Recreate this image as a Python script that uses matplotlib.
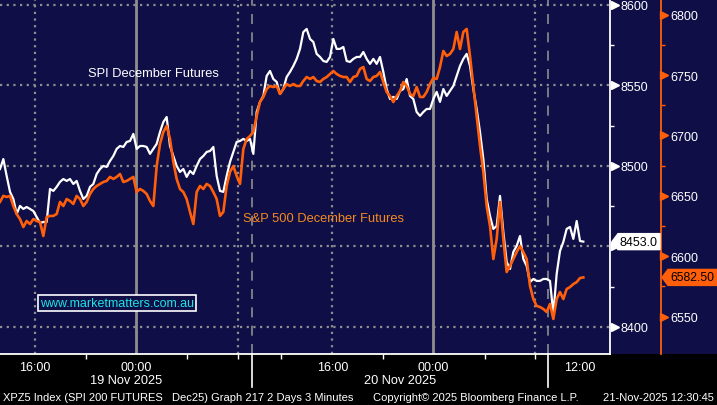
import numpy as np
import matplotlib
matplotlib.use("Agg")
import matplotlib.pyplot as plt
from matplotlib.patches import Polygon, Rectangle
from matplotlib.transforms import ScaledTranslation

plt.rcParams['font.family'] = ['Liberation Sans', 'DejaVu Sans']

# ---------------- data (sampled along the compressed trading-time axis) ----------------
spi_dec_futures = [
    8498.1, 8504.3, 8493.8, 8483.9, 8479.5, 8470.2, 8475.2, 8473.3, 8474.5, 8473.3,
    8472.0, 8468.3, 8464.6, 8465.2, 8465.2, 8485.7, 8484.5, 8487.0, 8490.1, 8491.9,
    8490.7, 8491.9, 8488.8, 8490.7, 8484.5, 8479.5, 8481.4, 8487.0, 8488.8, 8495.0,
    8498.1, 8500.0, 8499.4, 8503.1, 8506.2, 8510.6, 8512.4, 8511.8, 8514.9, 8515.5,
    8519.9, 8510.6, 8512.4, 8512.4, 8511.8, 8507.5, 8510.6, 8513.7, 8521.1, 8527.3,
    8530.4, 8512.4, 8506.2, 8500.0, 8496.3, 8498.1, 8493.2, 8496.9, 8495.0, 8500.0,
    8504.3, 8506.2, 8508.7, 8509.3, 8511.8, 8493.8, 8484.5, 8483.9, 8493.8, 8502.5,
    8508.7, 8514.9, 8515.5, 8516.8, 8515.5, 8516.8, 8507.5, 8533.5, 8539.8, 8543.5,
    8555.9, 8559.0, 8554.0, 8552.2, 8544.7, 8547.8, 8555.3, 8558.4, 8562.1, 8566.5,
    8572.7, 8583.2, 8585.1, 8578.9, 8577.0, 8569.6, 8567.7, 8565.2, 8564.6, 8567.7,
    8578.9, 8572.7, 8572.7, 8573.9, 8565.2, 8564.6, 8566.5, 8567.7, 8567.7, 8570.8,
    8566.5, 8563.4, 8566.5, 8563.4, 8567.7, 8558.4, 8547.8, 8541.6, 8542.9, 8541.6,
    8546.6, 8547.8, 8554.0, 8543.5, 8541.6, 8533.5, 8531.1, 8533.5, 8535.4, 8535.4,
    8541.6, 8546.0, 8539.8, 8547.8, 8543.5, 8546.6, 8549.7, 8555.9, 8562.1, 8566.5,
    8569.6, 8562.1, 8547.8, 8535.4, 8521.1, 8504.3, 8479.5, 8468.9, 8460.9, 8462.7,
    8481.4, 8459.0, 8440.4, 8436.0, 8446.6, 8450.3, 8456.5, 8442.2, 8437.9, 8427.9,
    8429.8, 8428.6, 8428.6, 8429.8, 8429.8, 8428.6, 8408.1, 8432.9, 8447.2, 8452.8,
    8460.9, 8462.1, 8454.7, 8465.8, 8453.4, 8453.0,
]

sp500_dec_futures = [
    6645.0, 6650.0, 6649.1, 6650.0, 6641.6, 6635.0, 6630.8, 6624.2, 6629.2, 6626.7,
    6630.8, 6629.2, 6628.4, 6616.8, 6632.5, 6633.4, 6633.4, 6635.0, 6645.0, 6641.6,
    6647.4, 6645.8, 6643.3, 6650.0, 6647.4, 6641.6, 6645.0, 6651.6, 6655.7, 6658.2,
    6659.9, 6661.5, 6662.4, 6665.7, 6664.0, 6665.7, 6668.1, 6661.5, 6662.4, 6664.0,
    6665.7, 6653.2, 6655.7, 6654.1, 6651.6, 6645.8, 6641.6, 6674.7, 6693.0, 6702.9,
    6707.9, 6697.1, 6678.1, 6664.0, 6655.7, 6653.2, 6647.4, 6636.7, 6626.7, 6653.2,
    6658.2, 6655.7, 6659.9, 6658.2, 6653.2, 6647.4, 6633.4, 6636.7, 6658.2, 6669.8,
    6674.7, 6666.5, 6659.9, 6688.8, 6697.1, 6699.6, 6702.9, 6716.1, 6727.7, 6731.9,
    6738.5, 6741.0, 6740.1, 6741.0, 6734.4, 6738.5, 6742.6, 6741.0, 6742.6, 6741.0,
    6741.0, 6745.1, 6748.4, 6746.8, 6748.4, 6745.1, 6744.3, 6746.8, 6748.4, 6750.9,
    6753.4, 6750.9, 6749.3, 6748.4, 6748.4, 6744.3, 6748.4, 6749.3, 6755.1, 6756.7,
    6746.8, 6745.1, 6748.4, 6749.3, 6752.6, 6744.3, 6736.0, 6732.7, 6727.7, 6732.7,
    6736.8, 6744.3, 6741.0, 6734.4, 6732.7, 6740.1, 6731.9, 6731.9, 6736.0, 6742.6,
    6747.6, 6746.8, 6756.7, 6770.0, 6765.8, 6767.5, 6771.6, 6785.7, 6771.6, 6785.7,
    6788.2, 6765.8, 6741.0, 6716.1, 6691.3, 6669.8, 6641.6, 6625.0, 6597.7, 6614.3,
    6644.9, 6614.3, 6587.0, 6592.0, 6597.7, 6603.5, 6608.5, 6603.5, 6597.7, 6575.4,
    6564.6, 6558.9, 6558.0, 6556.4, 6553.9, 6560.5, 6548.1, 6564.6, 6570.4, 6564.6,
    6572.9, 6574.5, 6577.0, 6578.6, 6582.0, 6582.5,
]

spi_last = 8453.0
sp_last = 6582.50

# x axis (compressed trading time, sample index units)
time_tick_pos = [10.5, 40.8, 99.7, 129.9, 174.0]
time_tick_labels = ['16:00', '00:00', '16:00', '00:00', '12:00']
minor_tick_pos = [25.8, 56.1, 71.4, 84.3, 114.9, 145.5, 160.5]
dotted_grid_pos = [10.5, 71.4, 99.7, 160.5]
midnight_pos = [40.8, 129.9]
session_pos = [75.5, 164.5]
date_labels = ['19 Nov 2025', '20 Nov 2025']
date_label_pos = [37.8, 120.0]

spi_ticks = [8400, 8450, 8500, 8550, 8600]
spi_tick_labels = ['8400', '', '8500', '8550', '8600']   # 8450 sits under the last-price tag
spi_minor = [8425, 8475, 8525, 8575]
sp_ticks = [6550, 6600, 6650, 6700, 6750, 6800]
sp_minor = [6575, 6625, 6675, 6725, 6775]

# ---------------- style ----------------
NAVY = '#0F0E47'
ORANGE = '#FF5F0A'
GRID = '#8E8E8E'
W, H = 717, 406
PLOT_R = 610
PLOT_B = 355

fig = plt.figure(figsize=(W / 100, H / 100), dpi=100, facecolor='black')
ax = fig.add_axes([0, (H - PLOT_B) / H, PLOT_R / W, PLOT_B / H])
ax.set_facecolor(NAVY)
fig.add_artist(Rectangle((0, (H - PLOT_B) / H), 1, PLOT_B / H, transform=fig.transFigure,
                         facecolor=NAVY, edgecolor='none', zorder=-5))

x = np.arange(len(spi_dec_futures))

ax.set_xlim(0, PLOT_R / (10 / 3))
ax.set_ylim(8383.2, 8603.7)

ax2 = ax.twinx()
ax2.set_ylim(6519.1, 6813.0)

# grid lines
for v in spi_ticks:
    ax.axhline(v, color=GRID, lw=1.6, ls=(0, (1, 2)), zorder=1)
for p in dotted_grid_pos:
    ax.axvline(p, color=GRID, lw=1.6, ls=(0, (1, 2)), zorder=1)
for p in midnight_pos:
    ax.axvline(p, color=GRID, lw=2.0, zorder=1)
for p in session_pos:
    ax.axvline(p, color=GRID, lw=1.2, ls=(0, (6, 5)), zorder=1)
    ax.plot([p, p], [0, -0.093], transform=ax.get_xaxis_transform(), color='white',
            lw=1.2, clip_on=False, zorder=3)

# series
ax.plot(x, spi_dec_futures, color='white', lw=1.6, zorder=4)
ax2.plot(x, sp500_dec_futures, color=ORANGE, lw=1.9, zorder=5)

# spines
for s in ['top', 'left']:
    ax.spines[s].set_visible(False)
    ax2.spines[s].set_visible(False)
ax2.spines['bottom'].set_visible(False)
ax.spines['bottom'].set_color('white')
ax.spines['bottom'].set_linewidth(1.3)
ax.spines['right'].set_color('white')
ax.spines['right'].set_linewidth(1.3)
ax2.spines['right'].set_position(('axes', 661 / PLOT_R))
ax2.spines['right'].set_color(ORANGE)
ax2.spines['right'].set_linewidth(1.3)

# x ticks
ax.set_xticks(time_tick_pos)
ax.set_xticklabels(time_tick_labels)
ax.set_xticks(minor_tick_pos, minor=True)
ax.tick_params(axis='x', which='major', length=0, pad=5, colors='white', labelsize=9)
ax.tick_params(axis='x', which='minor', length=3.5, width=1, color='white')
for p, lab in zip(date_label_pos, date_labels):
    ax.text(p, -0.073, lab, transform=ax.get_xaxis_transform(), ha='center', va='center',
            color='white', fontsize=9.2)

# y ticks (SPI, white)
ax.yaxis.tick_right()
ax.set_yticks(spi_ticks)
ax.set_yticklabels(spi_tick_labels)
ax.set_yticks(spi_minor, minor=True)
ax.tick_params(axis='y', which='major', length=0, pad=7.5, colors='white', labelsize=9)
ax.tick_params(axis='y', which='minor', length=3, width=1, color='white')
ax.plot([1.0074] * len(spi_ticks), spi_ticks, ls='none', marker='>', ms=5.5, color='white',
        transform=ax.get_yaxis_transform(), clip_on=False, zorder=6)

# y ticks (S&P, orange)
ax2.set_yticks(sp_ticks)
ax2.set_yticks(sp_minor, minor=True)
ax2.tick_params(axis='y', which='major', length=0, pad=7, labelcolor='white', labelsize=9)
ax2.tick_params(axis='y', which='minor', length=3, width=1, color=ORANGE)
ax2.plot([1.0893] * len(sp_ticks), sp_ticks, ls='none', marker='>', ms=5.5, color=ORANGE,
         transform=ax2.get_yaxis_transform(), clip_on=False, zorder=6)


def value_tag(axis, xfrac, value, text, face, x0, x1, tx, fs):
    tr = fig.dpi_scale_trans + ScaledTranslation(xfrac, value, axis.get_yaxis_transform())
    h = 0.08
    verts = [(x0, 0), (x0 + 0.06, h), (x1, h), (x1, -h), (x0 + 0.06, -h)]
    fig.add_artist(Polygon(verts, closed=True, transform=tr, facecolor=face,
                           edgecolor=face, zorder=20))
    t = fig.text(tx, 0.0, text, transform=tr, ha='left', va='center', color='black',
                 fontsize=fs, zorder=21)
    return t


value_tag(ax, 1.0, spi_last, f'{spi_last:.1f}', 'white', 0.02, 0.50, 0.09, 9)
value_tag(ax2, 661 / PLOT_R, sp_last, f'{sp_last:.2f}', ORANGE, 0.01, 0.57, 0.095, 8.8)

# annotations
ax.text(88 / PLOT_R, 1 - 74 / PLOT_B, 'SPI December Futures', transform=ax.transAxes,
        color='white', fontsize=9.3, ha='left', va='center', zorder=7)
ax.text(243 / PLOT_R, 1 - 219 / PLOT_B, 'S&P 500 December Futures', transform=ax.transAxes,
        color='#F58A1F', fontsize=9.3, ha='left', va='center', zorder=7)
ax.text(40 / PLOT_R, 1 - 304 / PLOT_B, 'www.marketmatters.com.au', transform=ax.transAxes,
        color='#1CE3E3', fontsize=9, ha='left', va='center', zorder=7,
        bbox=dict(boxstyle='square,pad=0.15', facecolor=NAVY, edgecolor='white', lw=1.2))

# footer
fy = 1 - 398 / H
fig.text(3 / W, fy, 'XPZ5 Index (SPI 200 FUTURES', color='white', fontsize=8, ha='left', va='center')
fig.text(172 / W, fy, 'Dec25) Graph 217 2 Days 3 Minutes', color='white', fontsize=8, ha='left', va='center')
fig.text(373 / W, fy, 'Copyright\u00a9 2025 Bloomberg Finance L.P.', color='white', fontsize=8, ha='left', va='center')
fig.text(714 / W, fy, '21-Nov-2025 12:30:45', color='white', fontsize=8, ha='right', va='center')

fig.savefig('out.png', dpi=100, facecolor='black')
